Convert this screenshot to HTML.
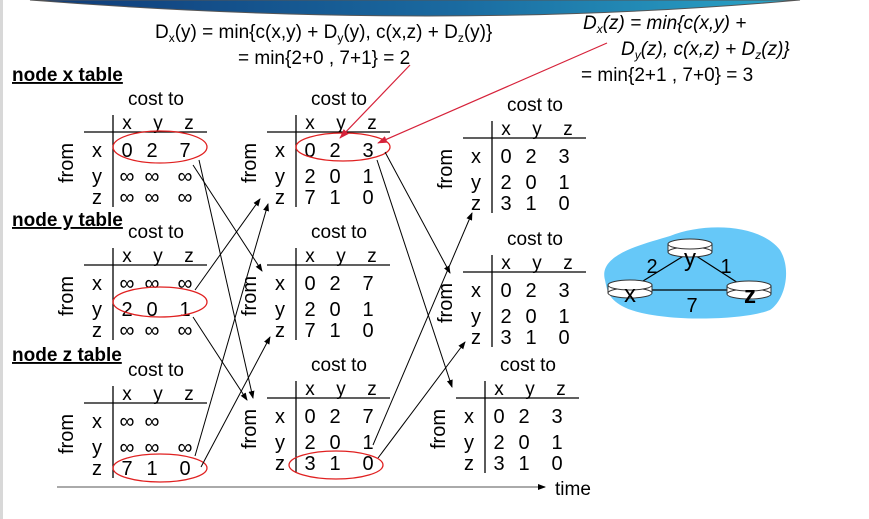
<!DOCTYPE html>
<html><head><meta charset="utf-8"><style>
html,body{margin:0;padding:0;background:#fff;}
svg{display:block;font-family:"Liberation Sans",sans-serif;}
</style></head><body>
<svg id="s" width="869" height="519" viewBox="0 0 869 519" xmlns="http://www.w3.org/2000/svg">
<defs>
<linearGradient id="bg" x1="0" x2="1" y1="0" y2="0">
<stop offset="0" stop-color="#0f3a78"/><stop offset="0.55" stop-color="#1a6aa0"/><stop offset="1" stop-color="#2aa6c8"/>
</linearGradient>
<marker id="ah" markerWidth="8" markerHeight="8" refX="7" refY="4" orient="auto" markerUnits="userSpaceOnUse"><path d="M0,1 L8,4 L0,7 Z" fill="#000"/></marker>
<marker id="rh" markerWidth="10" markerHeight="8" refX="9" refY="4" orient="auto" markerUnits="userSpaceOnUse"><path d="M0,0.5 L10,4 L0,7.5 Z" fill="#d6223a"/></marker>
</defs>
<rect x="0" y="0" width="3" height="519" fill="#d8d8d8"/>
<path d="M30,0 Q440,32 800,0 Z" fill="url(#bg)" stroke="#555" stroke-width="1"/>

<g font-size="19">
<text x="155" y="38">D<tspan font-size="12" dy="4">x</tspan><tspan dy="-4">(y) = min{c(x,y) + D</tspan><tspan font-size="12" dy="4">y</tspan><tspan dy="-4">(y), c(x,z) + D</tspan><tspan font-size="12" dy="4">z</tspan><tspan dy="-4">(y)}</tspan></text>
<text x="238" y="64">= min{2+0 , 7+1} = 2</text>
</g>
<g font-size="19">
<text x="583" y="29" font-style="italic">D<tspan font-size="12" dy="4">x</tspan><tspan dy="-4">(z) = min{c(x,y) +</tspan></text>
<text x="621" y="55" font-style="italic">D<tspan font-size="12" dy="4">y</tspan><tspan dy="-4">(z), c(x,z) + D</tspan><tspan font-size="12" dy="4">z</tspan><tspan dy="-4">(z)}</tspan></text>
<text x="581" y="81">= min{2+1 , 7+0} = 3</text>
</g>

<g font-size="19" font-weight="bold" text-decoration="underline">
<text x="12" y="81">node x table</text>
<text x="12" y="226">node y table</text>
<text x="12" y="361">node z table</text>
</g>

<g id="tables"></g>
<g id="arrows"></g>

<g>
<path d="M605,280 C598,255 640,245 670,236 C705,222 760,224 780,250 C792,270 785,300 770,310 C740,322 650,322 622,306 C608,298 607,290 605,280 Z" fill="#66c8f8"/>
<line x1="690" y1="252" x2="630" y2="289" stroke="#000" stroke-width="1.2"/>
<line x1="690" y1="252" x2="749" y2="290" stroke="#000" stroke-width="1.2"/>
<line x1="630" y1="290" x2="749" y2="290" stroke="#000" stroke-width="1.2"/>
<g><rect x="668" y="244" width="44" height="8" fill="#fff" stroke="#333"/><ellipse cx="690" cy="252" rx="22" ry="5" fill="#fff" stroke="#333"/><ellipse cx="690" cy="244" rx="22" ry="5" fill="#fff" stroke="#333"/><text x="690" y="266" font-size="24" text-anchor="middle">y</text></g>
<g><rect x="608" y="285" width="44" height="8" fill="#fff" stroke="#333"/><ellipse cx="630" cy="293" rx="22" ry="5" fill="#fff" stroke="#333"/><ellipse cx="630" cy="285" rx="22" ry="5" fill="#fff" stroke="#333"/><text x="630" y="302" font-size="24" text-anchor="middle">x</text></g>
<g><rect x="727" y="286" width="44" height="8" fill="#fff" stroke="#333"/><ellipse cx="749" cy="294" rx="22" ry="5" fill="#fff" stroke="#333"/><ellipse cx="749" cy="286" rx="22" ry="5" fill="#fff" stroke="#333"/><text x="750" y="303" font-size="24" font-weight="bold" text-anchor="middle">z</text></g>
<text x="652" y="273" font-size="20" text-anchor="middle">2</text>
<text x="726" y="273" font-size="20" text-anchor="middle">1</text>
<text x="692" y="312" font-size="20" text-anchor="middle">7</text>
</g>

<line x1="57" y1="487" x2="545" y2="487" stroke="#777" stroke-width="1.2" marker-end="url(#ah)"/>
<text x="555" y="495" font-size="19">time</text>
</svg>
<script>
const NS="http://www.w3.org/2000/svg";
const headers=["x","y","z"];
const rowLabels=["x","y","z"];
const tableValues=[
 ["0 2 7","∞ ∞ ∞","∞ ∞ ∞"],["0 2 3","2 0 1","7 1 0"],["0 2 3","2 0 1","3 1 0"],
 ["∞ ∞ ∞","2 0 1","∞ ∞ ∞"],["0 2 7","2 0 1","7 1 0"],["0 2 3","2 0 1","3 1 0"],
 ["∞ ∞ ","∞ ∞ ∞","7 1 0"],["0 2 7","2 0 1","3 1 0"],["0 2 3","2 0 1","3 1 0"]
];
const tableNames=["x-t0","x-t1","x-t2","y-t0","y-t1","y-t2","z-t0","z-t1","z-t2"];
const origins=[[113,132],[296,132],[492,138],[113,265],[296,265],[492,272],[113,403],[296,398],[485,398]];
function mk(tag,attrs,parent,txt){const e=document.createElementNS(NS,tag);for(const k in attrs)e.setAttribute(k,attrs[k]);if(txt!==undefined)e.textContent=txt;parent.appendChild(e);return e;}
const tg=document.getElementById('tables');
origins.forEach((o,i)=>{
 const vx=o[0],hy=o[1];
 const g=mk('g',{},tg);
 
 
 const ct=mk('text',{x:vx+43,y:hy-27,'font-size':19,'text-anchor':'middle'},g,'cost to');
 
 
 headers.forEach((h,j)=>{const t=mk('text',{x:vx+14+j*31,y:hy-3,'font-size':19,'text-anchor':'middle'},g,h);
  
  });
 mk('line',{x1:vx-29,y1:hy,x2:vx+94,y2:hy,stroke:'#000','stroke-width':1.3},g);
 mk('line',{x1:vx,y1:hy-17,x2:vx,y2:hy+75,stroke:'#000','stroke-width':1.3},g);
 const fr=mk('text',{x:0,y:0,'font-size':20,'text-anchor':'middle',transform:`translate(${vx-40},${hy+31}) rotate(-90)`},g,'from');
 
 
 const rowY=[hy+25,hy+51,hy+72];
 rowLabels.forEach((r,k)=>{
  const rl=mk('text',{x:vx-16,y:rowY[k],'font-size':20,'text-anchor':'middle'},g,r);
  
  
  const vals=tableValues[i][k].split(' ');
  vals.forEach((v,j)=>{if(!v)return;const inf=v==='∞';
   const t=mk('text',{x:vx+14+j*(j==2?29:25),y:rowY[k],'font-size':inf?21:20,'text-anchor':'middle'},g,v);
   
   });
 });
});
const ellipses=[[160,147,47,16],[343,147,47,14],[160,302,47,15],[160,468,47,14],[336,465,47,14]];
ellipses.forEach(e=>{const el=mk('ellipse',{cx:e[0],cy:e[1],rx:e[2],ry:e[3],fill:'none',stroke:'#e02020','stroke-width':1.3},tg);
 
 });
const ag=document.getElementById('arrows');
const arrows=[[193,165,262,271],[199,160,253,398],[195,290,260,199],[193,317,247,400],[195,456,268,204],[201,467,270,337],
 [385,152,450,273],[377,160,452,387],[373,445,472,213],[378,458,465,342]];
arrows.forEach(a=>{const l=mk('line',{x1:a[0],y1:a[1],x2:a[2],y2:a[3],stroke:'#000','stroke-width':1,'marker-end':'url(#ah)'},ag);
 
 });
const red=[[410,65,340,138],[607,43,378,143]];
red.forEach(a=>{const l=mk('line',{x1:a[0],y1:a[1],x2:a[2],y2:a[3],stroke:'#d6223a','stroke-width':1.2,'marker-end':'url(#rh)'},ag);
 
 });
</script>
</body></html>
